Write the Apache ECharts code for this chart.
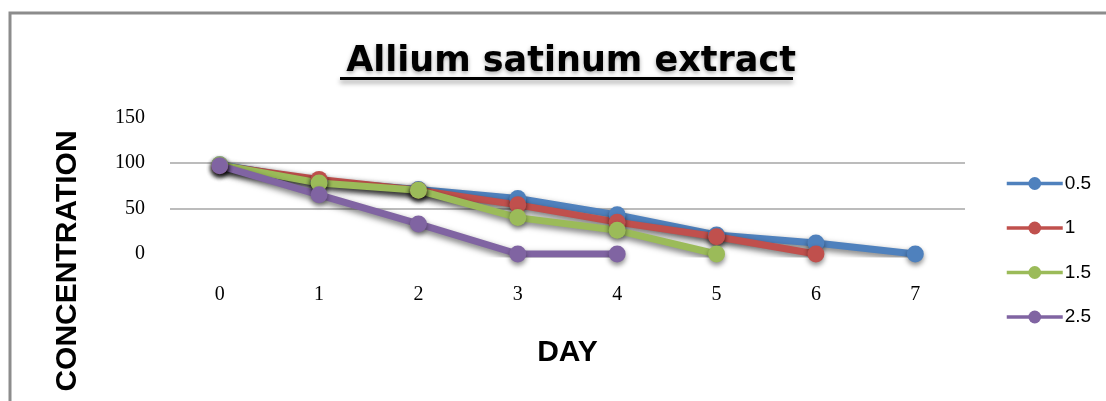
<!DOCTYPE html>
<html>
<head>
<meta charset="utf-8">
<script src="https://cdn.jsdelivr.net/npm/echarts@6/dist/echarts.min.js"></script>
<style>
html,body{margin:0;padding:0;background:#fff;}
#c{width:1106px;height:401px;}
</style>
</head>
<body>
<div id="c"></div>
<script>
const days = ['0','1','2','3','4','5','6','7'];
const seriesNames = ['0.5','1','1.5','2.5'];
const s05 = [98, 80, 71, 61, 43, 21, 12, 0];
const s1  = [97, 82, 70, 54, 35, 19, 0, null];
const s15 = [98, 78, 70, 40, 26, 0, null, null];
const s25 = [97, 65, 33, 0, 0, null, null, null];
const colors = ['#4F81BD', '#C0504D', '#9BBB59', '#8064A2'];
const titleText = 'Allium satinum extract';
const xName = 'DAY';
const yName = 'CONCENTRATION';

const chart = echarts.init(document.getElementById('c'), null, {renderer:'canvas'});
const all = [s05, s1, s15, s25];
const series = all.map((d, i) => ({
  name: seriesNames[i],
  type: 'line',
  data: d,
  symbol: 'circle',
  symbolSize: 17,
  clip: true,
  itemStyle: {color: colors[i], shadowColor:'rgba(0,0,0,0.45)', shadowBlur:5, shadowOffsetY:3},
  lineStyle: {width: 7, color: colors[i], shadowColor:'rgba(0,0,0,0.55)', shadowBlur:6, shadowOffsetY:3},
  emphasis: {disabled: true}
}));

chart.setOption({
  animation: false,
  backgroundColor: '#fff',
  color: colors,
  title: {
    text: titleText,
    left: 566, textAlign: 'center', top: 39,
    textStyle: {fontFamily:'DejaVu Sans', fontWeight:'bold', fontSize:35, color:'#000',
      textShadowColor:'rgba(0,0,0,0.35)', textShadowBlur:4, textShadowOffsetY:2}
  },
  legend: {
    orient: 'vertical',
    left: 1000, top: 169,
    itemWidth: 56, itemHeight: 16, itemGap: 25.5,
    lineStyle: {width: 3.5},
    itemStyle: {shadowBlur: 0},
    textStyle: {fontFamily:'Liberation Sans', fontSize:19, color:'#000', padding:[0,0,0,-3]},
    data: seriesNames
  },
  grid: {left: 170, right: 141, top: 117.5, bottom: 147},
  xAxis: {
    type: 'category', data: days, boundaryGap: true,
    axisLine: {show:false}, axisTick: {show:false},
    axisLabel: {fontFamily:'Liberation Serif', fontSize:20, color:'#000', margin:31},
    name: xName, nameLocation: 'middle', nameGap: 84,
    nameTextStyle: {fontFamily:'Liberation Sans', fontWeight:'bold', fontSize:30, color:'#000'}
  },
  yAxis: {
    type: 'value', min: 0, max: 150, interval: 50,
    axisLine: {show:false}, axisTick: {show:false},
    axisLabel: {fontFamily:'Liberation Serif', fontSize:20, color:'#000', margin:25},
    splitLine: {show:true, lineStyle:{color:['rgba(0,0,0,0)','#a6a6a6','#a6a6a6','rgba(0,0,0,0)'], width:1.5}}
  },
  graphic: [
    {type:'rect', shape:{x:340, y:77, width:453, height:3}, style:{fill:'#000', shadowColor:'rgba(0,0,0,0.4)', shadowBlur:5, shadowOffsetY:3}},
    {type:'text', x:68, y:261, rotation: Math.PI/2, style:{text:yName, fontFamily:'Liberation Sans', fontWeight:'bold', fontSize:30, fill:'#000', align:'center', verticalAlign:'middle'}},
    {type:'polyline', shape:{points:[[10,402],[10,13],[1106,13]]}, style:{stroke:'#8c8c8c', lineWidth:3, fill:null}}
  ],
  series: series
});
</script>
</body>
</html>
